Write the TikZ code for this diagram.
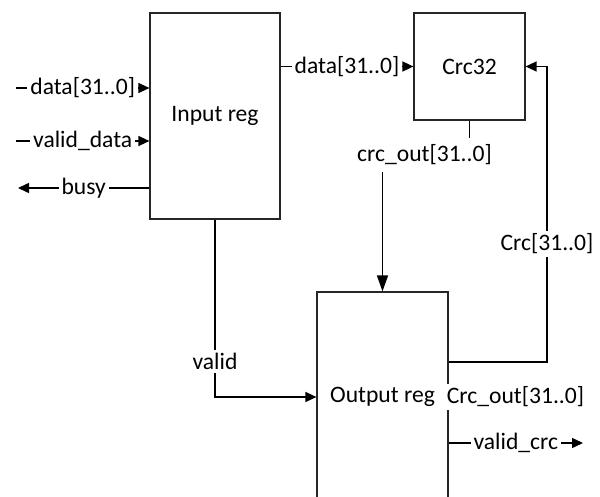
\documentclass[tikz,border=0pt]{standalone}
\usepackage{fontspec}
\setmainfont{Carlito}
\usetikzlibrary{arrows.meta}
\tikzset{
	regbox/.style={draw=black!85, line width=0.6pt, fill=white, inner sep=0pt},
	sig/.style={line width=0.75pt, -{Triangle[length=5.5pt,width=5pt]}},
	bigsig/.style={line width=0.75pt, -{Triangle[length=8pt,width=5.5pt]}},
	wire/.style={line width=0.75pt},
	lbl/.style={fill=white, inner sep=1.5pt}
}
\begin{document}
\begin{tikzpicture}[x=0.5pt, y=-0.5pt, font=\fontsize{11.8}{14}\selectfont]
	
	% Frame (output register runs off the bottom)
	\useasboundingbox (0,0) rectangle (600,497);
	\clip (0,0) rectangle (600,497);
	
	% Blocks
	\node[regbox, minimum width=65pt, minimum height=103pt] (inreg) at (215,116) {Input reg};
	\node[regbox, minimum width=55.5pt, minimum height=53.5pt] (crc) at (469.5,66.5) {Crc32};
	\node[regbox, minimum width=65.5pt, minimum height=105pt] (outreg) at (382.5,397) {Output reg};
	
	% Free ends
	\coordinate (datain) at (16,88);
	\coordinate (validin) at (16,141);
	\coordinate (busyout) at (18,188);
	\coordinate (crcfb) at (547,362);
	\coordinate (validcrcout) at (583,443);
	
	% Input side
	\draw[sig] (datain) -- node[lbl] {data[31..0]} (datain -| inreg.west);
	\draw[sig] (validin) -- node[lbl] {valid\_data} (validin -| inreg.west);
	\draw[sig] (busyout -| inreg.west) -- node[lbl] {busy} (busyout);
	
	% Input reg to Crc32
	\draw[sig] (inreg.east |- crc.west) -- node[lbl] {data[31..0]} (crc.west);
	
	% Crc32 to Output reg
	\node (crcout) at (424.5,155) {crc\_out[31..0]};
	\draw[wire] (crc.south) -- (crc.south |- crcout.north);
	\draw[bigsig] (outreg.north |- crcout.south) -- (outreg.north);
	
	% Feedback
	\draw[sig] (outreg.east |- crcfb) -- (crcfb) -- node[lbl, pos=0.4] {Crc[31..0]} (crcfb |- crc.east) -- (crc.east);
	
	% valid
	\draw[sig] (inreg.south) |- node[lbl, pos=0.4] {valid} (outreg.west);
	
	% Output side
	\node[lbl] (crcoutport) at (515.5,397) {Crc\_out[31..0]};
	\draw[sig] (outreg.east |- validcrcout) -- node[lbl] {valid\_crc} (validcrcout);
\end{tikzpicture}
\end{document}
